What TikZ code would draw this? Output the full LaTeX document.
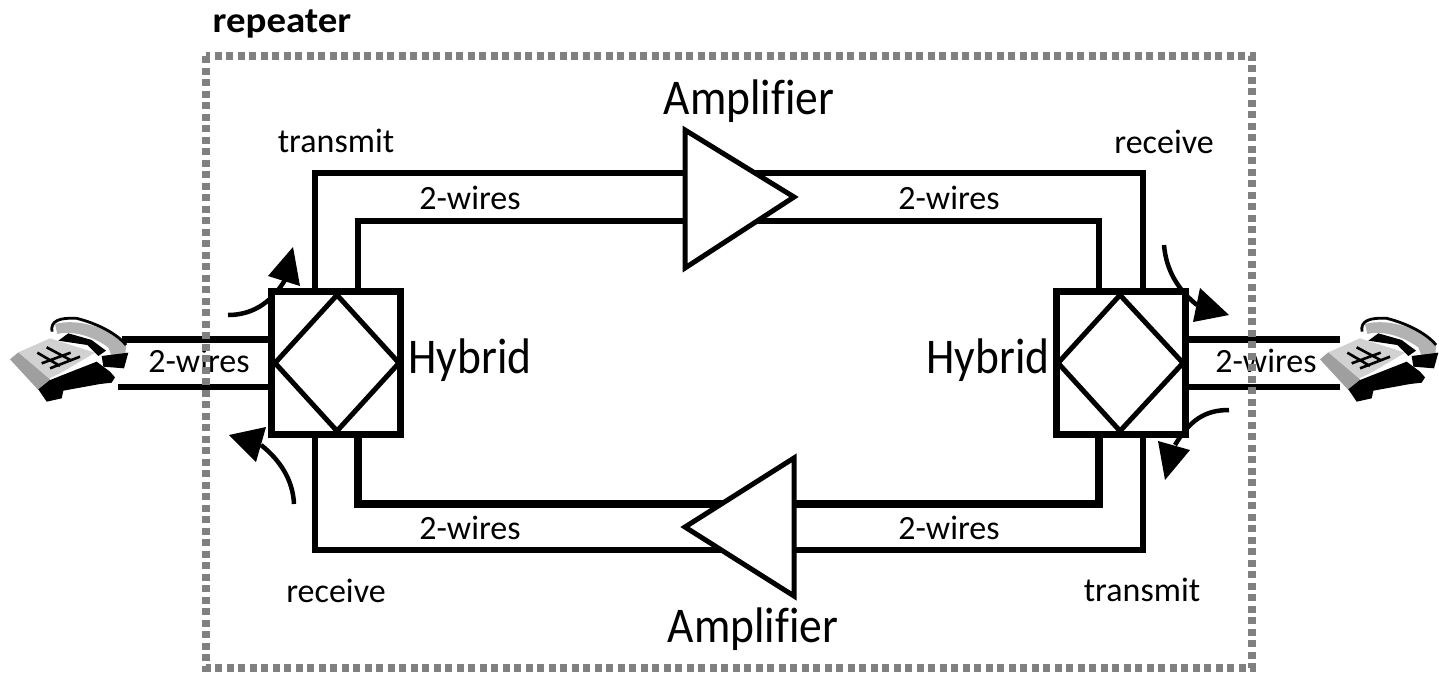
\documentclass[tikz,border=0pt]{standalone}
\usepackage{fontspec}
\setmainfont{Carlito}
\tikzset{
  x=1pt,y=-1pt,
  wirethin/.style={line width=6pt,line cap=butt,line join=miter},
  wirethick/.style={line width=8pt,line cap=butt,line join=miter},
  hybox/.style={draw,fill=white,line width=7pt,minimum width=129pt,minimum height=143pt,inner sep=0pt,outer sep=0pt},
  dia/.style={line width=5pt,line join=miter},
  amp/.style={draw,fill=white,line width=5pt,line join=miter},
  small/.style={font=\fontsize{34}{34}\selectfont,inner sep=0pt},
  big/.style={font=\fontsize{50}{50}\selectfont,inner sep=0pt,xscale=0.91},
  flowcurve/.style={line width=4.5pt},
  head/.style={fill=black},
  phone/.pic={
    \begin{scope}[scale=1/3]
      \fill[gray!75] (30,388) -- (55,367) -- (155,448) -- (150,472) -- (115,480) -- cycle;
      \fill[black!18] (55,367) -- (150,325) -- (285,368) -- (150,448) -- cycle;
      \fill[black] (115,478) -- (150,450) -- (290,395) -- (330,425) -- (345,442) -- (335,458) -- (300,462) -- (190,482) -- (185,505) -- (140,515) -- cycle;
      \draw[black,line width=2.6pt] (112,368) -- (180,408) (140,352) -- (215,392) (125,400) -- (212,368) (150,415) -- (240,380);
      \draw[white,line width=1.6pt] (298,358) -- (278,388) -- (150,447);
      \fill[gray!60] (165,282) .. controls (240,262) and (340,300) .. (378,345) -- (375,392) -- (342,398) -- (325,352) .. controls (280,320) and (220,300) .. (172,312) -- cycle;
      \fill[black] (175,332) -- (205,310) -- (275,330) -- (318,362) -- (295,378) -- (262,345) -- cycle;
      \fill[black] (305,378) -- (385,368) -- (372,415) -- (310,410) -- cycle;
      \draw[black,line width=2.8pt] (156,305) .. controls (150,272) and (180,262) .. (230,265) .. controls (290,280) and (350,310) .. (378,345);
    \end{scope}
  }
}
\begin{document}
\begin{tikzpicture}
\useasboundingbox (0,0) rectangle (1439,673);
\fill[white] (0,0) rectangle (1439,673);

% anchor points of the wires
\coordinate (ltA) at (315,291); \coordinate (ltB) at (358,291);
\coordinate (lbA) at (315,434); \coordinate (lbB) at (358,434);
\coordinate (rtA) at (1143,291); \coordinate (rtB) at (1099,291);
\coordinate (rbA) at (1143,434); \coordinate (rbB) at (1099,434);
\coordinate (phLa) at (122,339); \coordinate (phLb) at (118,387);
\coordinate (phRa) at (1340,339); \coordinate (phRb) at (1340,387);
\coordinate (hyLa) at (271,339); \coordinate (hyLb) at (271,387);
\coordinate (hyRa) at (1187,339); \coordinate (hyRb) at (1187,387);

% wires
\draw[wirethin] (ltA) -- (315,173) -- (1143,173) -- (rtA);
\draw[wirethin] (ltB) -- (358,221) -- (1099,221) -- (rtB);
\draw[wirethin] (lbA) -- (315,550) -- (1143,550) -- (rbA);
\draw[wirethick] (lbB) -- (358,504) -- (1099,504) -- (rbB);
\draw[line width=7pt] (phLa) -- (hyLa);
\draw[wirethin] (phLb) -- (hyLb);
\draw[line width=7pt] (phRa) -- (hyRa);
\draw[wirethin] (phRb) -- (hyRb);

% amplifiers
\draw[amp] (685,130) -- (794,197) -- (685,268) -- cycle;
\draw[amp] (794,458) -- (794,596) -- (685,527) -- cycle;

% flow arrows (their shafts pass behind the hybrids)
\draw[flowcurve] (228,315) .. controls (250,315) and (270,305) .. (285,280);
\draw[flowcurve] (294,504) .. controls (293,480) and (280,460) .. (261,445);
\draw[flowcurve] (1164,245) .. controls (1166,270) and (1178,290) .. (1197,305);
\draw[flowcurve] (1229,410) .. controls (1205,410) and (1190,420) .. (1175,445);

% hybrids
\node[hybox] (hybL) at (336,362.5) {};
\node[hybox] (hybR) at (1121,362.5) {};
\draw[dia] (275,363) -- (337,295) -- (399,363) -- (337,431) -- cycle;
\draw[dia] (1058,363) -- (1120,295) -- (1183,363) -- (1120,431) -- cycle;

\fill[head] (293,247) -- (268,276) -- (300,286) -- cycle;
\fill[head] (229,435) -- (266,427) -- (256,462) -- cycle;
\fill[head] (1200,288) -- (1229,315) -- (1193,322) -- cycle;
\fill[head] (1158,441) -- (1190,450) -- (1165,480) -- cycle;

% labels
\node[big] (ampT) at (749,101) {Amplif\kern0pt ier};
\node[big] (ampB) at (753,629) {Amplif\kern0pt ier};
\node[big] (hybTL) at (470,360) {Hybrid};
\node[big] (hybTR) at (988,360) {Hybrid};
\node[small] (txT) at (336,141) {transmit};
\node[small] (rxT) at (1164,142) {receive};
\node[small] (rxB) at (336,591) {receive};
\node[small] (txB) at (1142,590) {transmit};
\node[small] (w1) at (470,198) {2-wires};
\node[small] (w2) at (949,198) {2-wires};
\node[small] (w3) at (470,528) {2-wires};
\node[small] (w4) at (949,528) {2-wires};
\node[small] (w5) at (199,361) {2-wires};
\node[small] (w6) at (1266,361) {2-wires};
\node[font=\fontsize{36}{36}\selectfont\bfseries,inner sep=0pt,xscale=1.08] (rep) at (282,24) {repeater};

% phones
\pic at (0,230) {phone};
\pic at (1310,230) {phone};

% repeater frame
\draw[draw=black!50,line width=7.5pt,dash pattern=on 7pt off 4.5pt] (206,56) rectangle (1252,668);
\end{tikzpicture}
\end{document}
